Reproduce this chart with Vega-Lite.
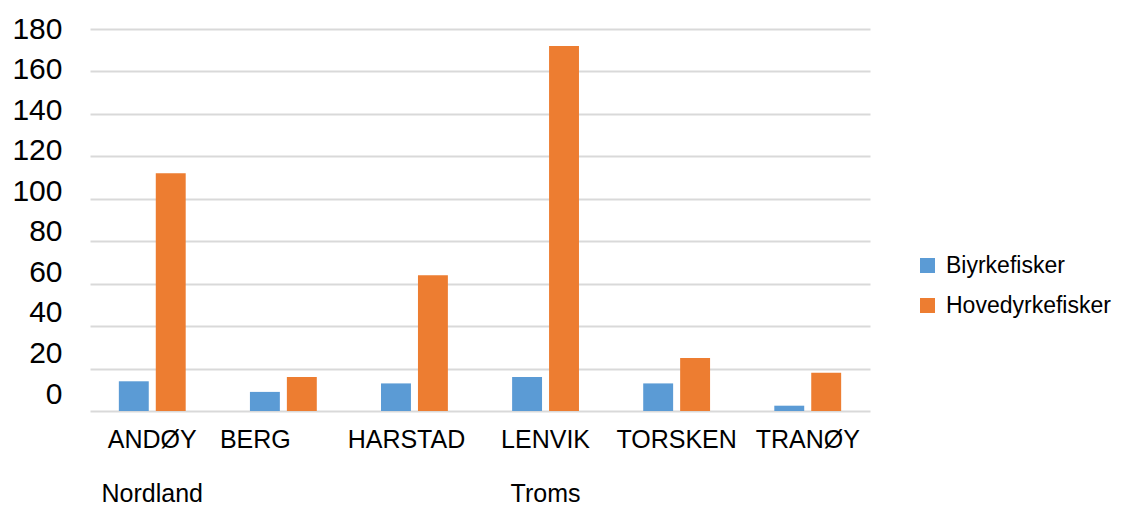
{
  "$schema": "https://vega.github.io/schema/vega-lite/v6.json",
  "width": 780,
  "height": 382,
  "autosize": {"type": "none"},
  "padding": {"left": 90, "top": 29, "right": 256, "bottom": 95},
  "background": "white",
  "config": {"view": {"stroke": null}, "font": "Liberation Sans"},
  "data": {
    "values": [
      {"fylke": "Nordland", "kommune": "ANDØY", "type": "Biyrkefisker", "antall": 14},
      {"fylke": "Nordland", "kommune": "ANDØY", "type": "Hovedyrkefisker", "antall": 112},
      {"fylke": "Nordland", "kommune": "BERG", "type": "Biyrkefisker", "antall": 9},
      {"fylke": "Nordland", "kommune": "BERG", "type": "Hovedyrkefisker", "antall": 16},
      {"fylke": "Troms", "kommune": "HARSTAD", "type": "Biyrkefisker", "antall": 13},
      {"fylke": "Troms", "kommune": "HARSTAD", "type": "Hovedyrkefisker", "antall": 64},
      {"fylke": "Troms", "kommune": "LENVIK", "type": "Biyrkefisker", "antall": 16},
      {"fylke": "Troms", "kommune": "LENVIK", "type": "Hovedyrkefisker", "antall": 172},
      {"fylke": "Troms", "kommune": "TORSKEN", "type": "Biyrkefisker", "antall": 13},
      {"fylke": "Troms", "kommune": "TORSKEN", "type": "Hovedyrkefisker", "antall": 25},
      {"fylke": "Troms", "kommune": "TRANØY", "type": "Biyrkefisker", "antall": 2.5},
      {"fylke": "Troms", "kommune": "TRANØY", "type": "Hovedyrkefisker", "antall": 18}
    ]
  },
  "mark": {"type": "bar"},
  "encoding": {
    "x": {
      "field": "kommune",
      "type": "nominal",
      "sort": null,
      "scale": {"paddingInner": 0.49, "paddingOuter": 0.22},
      "axis": {
        "title": null,
        "labelAngle": 0,
        "domain": false,
        "ticks": false,
        "grid": false,
        "labelFontSize": 25,
        "labelColor": "#000000",
        "labelPadding": 16,
        "labelLineHeight": 54,
        "labelBaseline": "top",
        "labelExpr": "datum.value == 'ANDØY' ? ['ANDØY', 'Nordland'] : datum.value == 'LENVIK' ? ['LENVIK', 'Troms'] : datum.value",
        "labelOffset": {"expr": "datum.value == 'BERG' ? -28 : datum.value == 'HARSTAD' ? -8 : 0"}
      }
    },
    "xOffset": {
      "field": "type",
      "type": "nominal",
      "scale": {"paddingInner": 0.19, "paddingOuter": 0}
    },
    "y": {
      "field": "antall",
      "type": "quantitative",
      "scale": {"domain": [0, 180], "nice": false},
      "axis": {
        "title": null,
        "domain": false,
        "ticks": false,
        "values": [0, 20, 40, 60, 80, 100, 120, 140, 160, 180],
        "gridColor": "#D9D9D9",
        "gridWidth": 2,
        "labelFontSize": 30,
        "labelPadding": 28,
        "labelColor": "#000000",
        "labelOffset": {"expr": "-(180 - datum.value) / 180 * 17"}
      }
    },
    "color": {
      "field": "type",
      "type": "nominal",
      "scale": {"domain": ["Biyrkefisker", "Hovedyrkefisker"], "range": ["#5B9BD5", "#ED7D31"]},
      "legend": {
        "title": null,
        "orient": "none",
        "legendX": 826,
        "legendY": 225,
        "symbolType": "square",
        "symbolSize": 225,
        "symbolStrokeWidth": 0,
        "labelFontSize": 23,
        "labelLimit": 300,
        "labelColor": "#000000",
        "labelOffset": 7,
        "rowPadding": 16
      }
    }
  }
}
